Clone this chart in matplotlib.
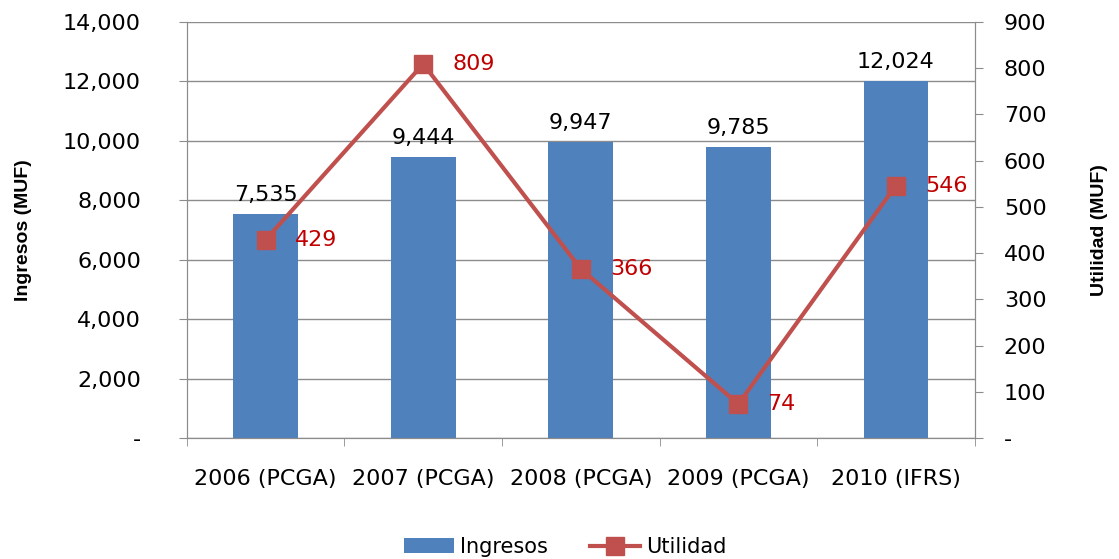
import numpy as np
import matplotlib.pyplot as plt
from matplotlib.ticker import FuncFormatter, FixedLocator

# datos
anios = ['2006 (PCGA)', '2007 (PCGA)', '2008 (PCGA)', '2009 (PCGA)', '2010 (IFRS)']
ingresos = [7535, 9444, 9947, 9785, 12024]
utilidad = [429, 809, 366, 74, 546]

plt.rcParams['font.family'] = ['DejaVu Sans']
plt.rcParams['font.size'] = 16

grey = '#8c8c8c'
titulo_font = dict(family=['Liberation Sans Narrow', 'DejaVu Sans Condensed', 'Liberation Sans'],
                   fontweight='bold', fontsize=14)

fig = plt.figure(figsize=(11.19, 5.59), dpi=100)
ax = fig.add_axes([0.167, 0.216, 0.704, 0.745])
ax2 = ax.twinx()

x = np.arange(len(anios))
ax.bar(x, ingresos, width=0.41, color='#4F81BD', label='Ingresos', zorder=2)
ax.set_ylim(0, 14000)
ax.set_xlim(-0.5, len(anios) - 0.5)
ax.set_yticks(np.arange(0, 14001, 2000))
ax.yaxis.set_major_formatter(FuncFormatter(lambda v, p: '-' if v == 0 else f'{int(v):,}'))
ax.grid(axis='y', color=grey, linewidth=1, zorder=0)
ax.set_axisbelow(True)
ax.set_xticks(x)
ax.set_xticklabels(anios)
ax.xaxis.set_minor_locator(FixedLocator(np.arange(-0.5, len(anios), 1)))
ax.tick_params(axis='x', which='major', length=0, pad=22)
ax.tick_params(axis='x', which='minor', length=6, color=grey, direction='out')
ax.tick_params(axis='y', length=6, color=grey, direction='out', pad=27)
ax.set_ylabel('Ingresos (MUF)', labelpad=22, **titulo_font)

for xi, v in zip(x, ingresos):
    ax.text(xi, v + 300, f'{v:,}', ha='center', va='bottom')

ax2.plot(x, utilidad, color='#C0504D', linewidth=3, marker='s', markersize=13, label='Utilidad', zorder=3)
ax2.set_ylim(0, 900)
ax2.set_yticks(np.arange(0, 901, 100))
ax2.yaxis.set_major_formatter(FuncFormatter(lambda v, p: '-' if v == 0 else f'{int(v)}'))
ax2.tick_params(axis='y', length=6, color=grey, direction='out', pad=15)
ax2.set_ylabel('Utilidad (MUF)', labelpad=32, **titulo_font)

for xi, v in zip(x, utilidad):
    ax2.annotate(str(v), (xi, v), xytext=(21, 0), textcoords='offset points',
                 ha='left', va='center', color='#C00000')

for a in (ax, ax2):
    a.spines['top'].set_visible(False)
    for s in ('left', 'right', 'bottom'):
        a.spines[s].set_color(grey)

h1, l1 = ax.get_legend_handles_labels()
h2, l2 = ax2.get_legend_handles_labels()
fig.legend(h1 + h2, l1 + l2, loc='lower center', bbox_to_anchor=(0.505, -0.03), ncol=2,
           frameon=False, fontsize=15, handlelength=2.4, handletextpad=0.3, columnspacing=2.0)

fig.savefig('out.png', dpi=100)
